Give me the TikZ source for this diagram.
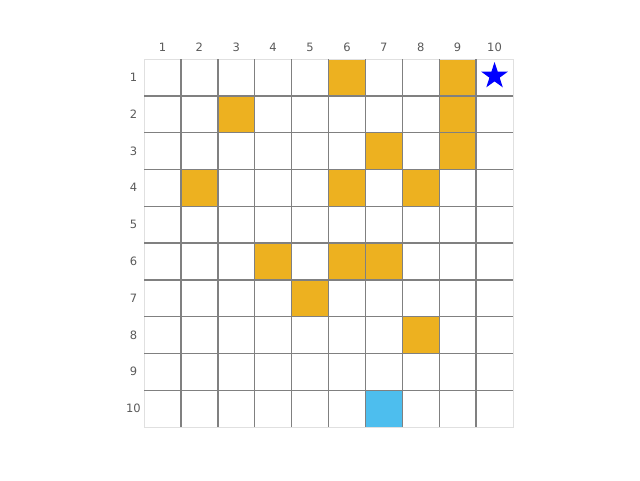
\documentclass[tikz,border=0pt]{standalone}
\usepackage{fontspec}
\setmainfont{DejaVu Sans}
\usetikzlibrary{shapes.geometric}
\definecolor{cellorange}{HTML}{EDB120}
\definecolor{cellblue}{HTML}{4DBEEE}
\definecolor{gridgray}{HTML}{808080}
\definecolor{edgegray}{HTML}{E0E0E0}
\definecolor{labgray}{HTML}{5A5A5A}
\begin{document}
\begin{tikzpicture}[x=1pt,y=-1pt,
  lab/.style={font=\fontsize{11.5}{11.5}\selectfont, text=labgray, inner sep=0pt},
  ocell/.style={fill=cellorange},
  bcell/.style={fill=cellblue},
  gline/.style={draw=gridgray, line width=1.4pt},
  eline/.style={draw=edgegray, line width=0.8pt}]
\useasboundingbox[fill=white] (0,0) rectangle (640,480);
\def\X{144}\def\Y{59}\def\W{36.9}\def\H{36.8}
% filled cells
\foreach \r/\c in {1/6,1/9,2/3,2/9,3/7,3/9,4/2,4/6,4/8,6/4,6/6,6/7,7/5,8/8}{
  \fill[ocell] ({\X+(\c-1)*\W},{\Y+(\r-1)*\H}) rectangle ++(\W,\H);
}
\fill[bcell] ({\X+6*\W},{\Y+9*\H}) rectangle ++(\W,\H);
% outer border
\draw[eline] (\X,\Y) rectangle ({\X+10*\W},{\Y+10*\H});
% interior grid lines
\foreach \i in {1,...,9}{
  \draw[gline] ({\X+\i*\W},\Y) -- ({\X+\i*\W},{\Y+10*\H});
  \draw[gline] (\X,{\Y+\i*\H}) -- ({\X+10*\W},{\Y+\i*\H});
}
% labels
\foreach \i in {1,...,10}{
  \node[lab] (col\i) at ({\X+(\i-0.5)*\W},47) {\i};
  \node[lab] (row\i) at (133.5,{\Y+(\i-0.5)*\H}) {\i};
}
% star
\node[star, star points=5, star point ratio=2.6, fill=blue, minimum size=28pt, inner sep=0pt] (goal) at ({\X+9.5*\W},76) {};
\end{tikzpicture}
\end{document}
